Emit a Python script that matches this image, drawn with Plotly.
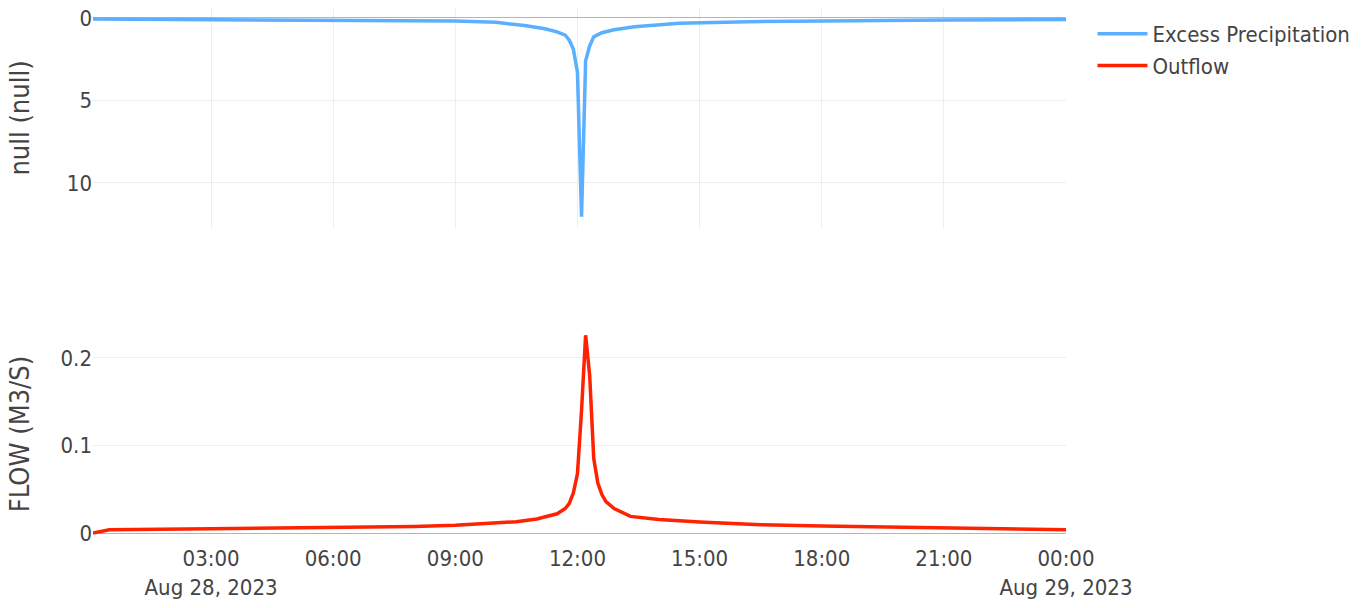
import plotly.graph_objects as go

# Excess precipitation hyetograph (plotted on a reversed axis)
precip_time = [
    "2023-08-28 00:06", "2023-08-28 03:00", "2023-08-28 06:00", "2023-08-28 09:00",
    "2023-08-28 10:00", "2023-08-28 10:42", "2023-08-28 11:12", "2023-08-28 11:30",
    "2023-08-28 11:42", "2023-08-28 11:48", "2023-08-28 11:54", "2023-08-28 12:00",
    "2023-08-28 12:06", "2023-08-28 12:12", "2023-08-28 12:18", "2023-08-28 12:24",
    "2023-08-28 12:36", "2023-08-28 12:54", "2023-08-28 13:24", "2023-08-28 14:30",
    "2023-08-28 16:12", "2023-08-28 18:36", "2023-08-28 21:06", "2023-08-29 00:00",
]
precip_value = [
    0.07, 0.10, 0.13, 0.19,
    0.27, 0.46, 0.66, 0.85,
    1.05, 1.35, 1.9, 3.3,
    12.05, 2.6, 1.7, 1.15,
    0.9, 0.72, 0.53, 0.33,
    0.23, 0.16, 0.12, 0.10,
]

# Outflow hydrograph
flow_time = [
    "2023-08-28 00:06", "2023-08-28 00:30", "2023-08-28 03:00", "2023-08-28 06:00",
    "2023-08-28 08:00", "2023-08-28 09:00", "2023-08-28 10:00", "2023-08-28 10:30",
    "2023-08-28 11:00", "2023-08-28 11:30", "2023-08-28 11:42", "2023-08-28 11:48",
    "2023-08-28 11:54", "2023-08-28 12:00", "2023-08-28 12:06", "2023-08-28 12:12",
    "2023-08-28 12:18", "2023-08-28 12:24", "2023-08-28 12:30", "2023-08-28 12:36",
    "2023-08-28 12:42", "2023-08-28 12:54", "2023-08-28 13:18", "2023-08-28 14:00",
    "2023-08-28 15:00", "2023-08-28 16:30", "2023-08-28 18:00", "2023-08-28 21:00",
    "2023-08-29 00:00",
]
flow_value = [
    0.0, 0.0038, 0.0048, 0.006,
    0.0075, 0.0088, 0.011, 0.013,
    0.016, 0.022, 0.028, 0.034,
    0.046, 0.068, 0.14, 0.226,
    0.18, 0.085, 0.057, 0.044,
    0.036, 0.028, 0.019, 0.0155,
    0.0125, 0.0095, 0.008, 0.0058,
    0.0036,
]

FONT = "DejaVu Sans Condensed, DejaVu Sans"
TEXT = "#444444"
GRID = "#eeeeee"
ZERO = "#b4b4b4"

fig = go.Figure()
fig.add_trace(go.Scatter(
    x=precip_time, y=precip_value, name="Excess Precipitation",
    mode="lines", line=dict(color="#5AB0FF", width=3.5),
    xaxis="x", yaxis="y",
))
fig.add_trace(go.Scatter(
    x=flow_time, y=flow_value, name="Outflow",
    mode="lines", line=dict(color="#FF2200", width=3.5),
    xaxis="x2", yaxis="y2",
))

x_range = ["2023-08-28 00:06", "2023-08-29 00:00"]

fig.update_layout(
    width=1372, height=608,
    template="none",
    paper_bgcolor="white", plot_bgcolor="white",
    font=dict(family=FONT, size=22, color=TEXT),
    margin=dict(l=93, r=306, t=8, b=65),
    showlegend=True,
    legend=dict(
        font=dict(size=22, color=TEXT), itemwidth=50,
        x=1.0272, xanchor="left", y=0.9907, yanchor="top",
    ),
    xaxis=dict(
        domain=[0, 1], anchor="y", matches="x2", range=x_range,
        showticklabels=False, showgrid=True, gridcolor=GRID,
        zeroline=False, showline=False, ticks="",
    ),
    yaxis=dict(
        domain=[0.5888, 1], anchor="x", range=[12.73, -0.6],
        dtick=5, showgrid=True, gridcolor=GRID,
        zeroline=True, zerolinecolor=ZERO, zerolinewidth=1,
        showline=False, ticks="",
        title=dict(text="null (null)", font=dict(size=27, color=TEXT)),
    ),
    xaxis2=dict(
        domain=[0, 1], anchor="y2", range=x_range,
        dtick=3 * 3600 * 1000, tickformat="%H:%M\n%b %d, %Y",
        showgrid=False, zeroline=False, showline=False, ticks="",
        tickfont=dict(size=22, color=TEXT),
    ),
    yaxis2=dict(
        domain=[0, 0.4075], anchor="x2", range=[-0.0114, 0.2377],
        dtick=0.1, showgrid=True, gridcolor=GRID,
        zeroline=True, zerolinecolor=ZERO, zerolinewidth=1,
        showline=False, ticks="",
        title=dict(text="FLOW (M3/S)", font=dict(size=27, color=TEXT)),
    ),
)

fig.write_html("out.html")
